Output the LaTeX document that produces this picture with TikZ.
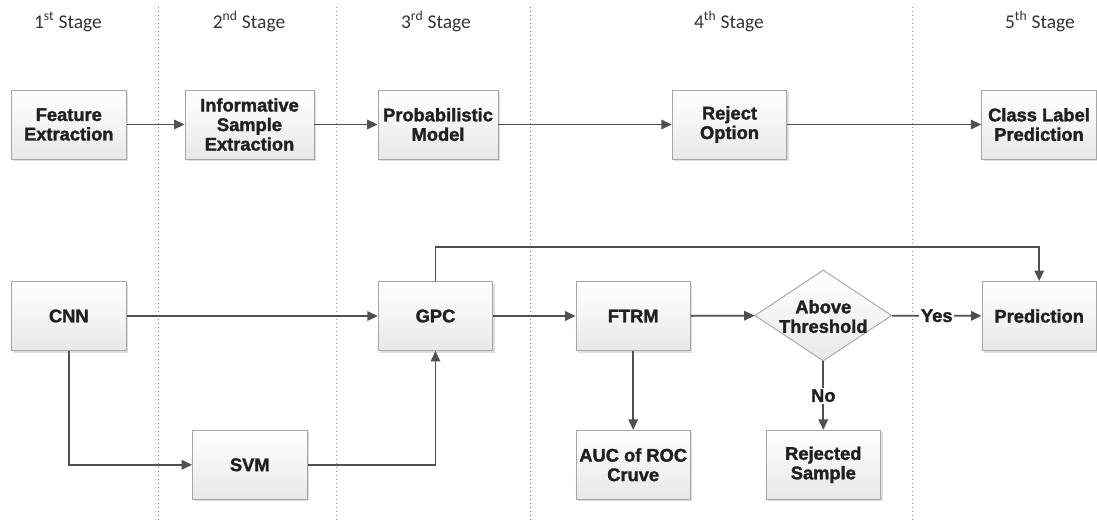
\documentclass[tikz,border=0pt]{standalone}
\usepackage{fontspec}
\setmainfont{Liberation Sans}
\newfontfamily\boxfont{Liberation Sans}[BoldFeatures={FakeBold=1.6}]
\newfontfamily\stagefont{Carlito}
\usetikzlibrary{shapes.geometric,shadows,arrows.meta,calc}
\definecolor{linecol}{RGB}{80,80,84}
\definecolor{bordercol}{RGB}{165,165,165}
\definecolor{textcol}{RGB}{32,32,32}
\definecolor{dotcol}{RGB}{140,140,140}
\definecolor{boxbot}{RGB}{232,232,232}
\tikzset{
  boxtext/.style={font=\boxfont\bfseries\fontsize{18.3}{19.5}\selectfont, text=textcol},
  procbox/.style={draw=bordercol, line width=0.9pt, top color=white, bottom color=boxbot,
    drop shadow={opacity=0.22, shadow xshift=2pt, shadow yshift=-2pt, fill=black!60},
    minimum width=114.5pt, minimum height=69pt, inner sep=0pt, align=center, boxtext},
  decbox/.style={diamond, draw=bordercol, line width=0.9pt, top color=white, bottom color=boxbot,
    minimum width=137pt, minimum height=91pt, inner sep=0pt},
  stagelbl/.style={font=\stagefont\fontsize{19.5}{22}\selectfont, text=black!80, anchor=base, inner sep=0pt},
  arr/.style={draw=linecol, line width=1.8pt, -{Triangle[length=10.5pt,width=9.5pt]}},
  edgelbl/.style={fill=white, inner sep=1.5pt, boxtext},
  sep/.style={draw=dotcol, line width=1pt, dash pattern=on 1pt off 3pt}
}
\begin{document}
\begin{tikzpicture}[x=1pt,y=-1pt]
\useasboundingbox (0,0) rectangle (1097,520);
% stage separators
\foreach \xx in {158,336.7,530,912} {
  \draw[sep] (\xx,7) -- (\xx,520);
}
% stage labels
\node[stagelbl] (s1) at (68,28.5) {1\textsuperscript{st} Stage};
\node[stagelbl] (s2) at (249,28.5) {2\textsuperscript{nd} Stage};
\node[stagelbl] (s3) at (436,28.5) {3\textsuperscript{rd} Stage};
\node[stagelbl] (s4) at (729,28.5) {4\textsuperscript{th} Stage};
\node[stagelbl] (s5) at (1040,28.5) {5\textsuperscript{th} Stage};
% top row
\node[procbox] (fe) at (68.8,124.5) {Feature\\Extraction};
\node[procbox, minimum width=129pt] (ise) at (249.5,124.5) {Informative\\Sample\\Extraction};
\node[procbox, minimum width=120pt] (pm) at (438,124.5) {Probabilistic\\Model};
\node[procbox] (ro) at (729.5,124.5) {Reject\\Option};
\node[procbox] (clp) at (1039,124.5) {Class Label\\Prediction};
\draw[arr] (fe) -- (ise);
\draw[arr] (ise) -- (pm);
\draw[arr] (pm) -- (ro);
\draw[arr] (ro) -- (clp);
% bottom rows
\node[procbox] (cnn) at (68.8,316) {CNN};
\node[procbox] (gpc) at (435.5,316) {GPC};
\node[procbox] (svm) at (249.8,464.8) {SVM};
\node[procbox] (ftrm) at (633.2,316) {FTRM};
\node[procbox] (auc) at (633.2,464.8) {AUC of ROC\\Cruve};
\node[decbox, label={[align=center, boxtext, yshift=-1pt]center:Above\\Threshold}] (dec) at (823.3,315.5) {};
\node[procbox] (rs) at (823.3,464.8) {Rejected\\Sample};
\node[procbox] (pred) at (1039.2,316) {Prediction};
\coordinate (topy) at (0,246.7);
\draw[arr] (cnn) -- (gpc);
\draw[arr] (cnn.south) |- (svm.west);
\draw[arr] (svm.east) -| (gpc.south);
\draw[arr] (gpc) -- (ftrm);
\draw[arr] (ftrm) -- (dec);
\draw[arr] (ftrm) -- (auc);
\draw[arr] (gpc.north) -- (gpc.north |- topy) -| (pred.north);
\draw[arr] (dec) -- node[edgelbl] (yes) {Yes} (pred);
\draw[arr] (dec) -- node[edgelbl] (no) {No} (rs);
\end{tikzpicture}
\end{document}
